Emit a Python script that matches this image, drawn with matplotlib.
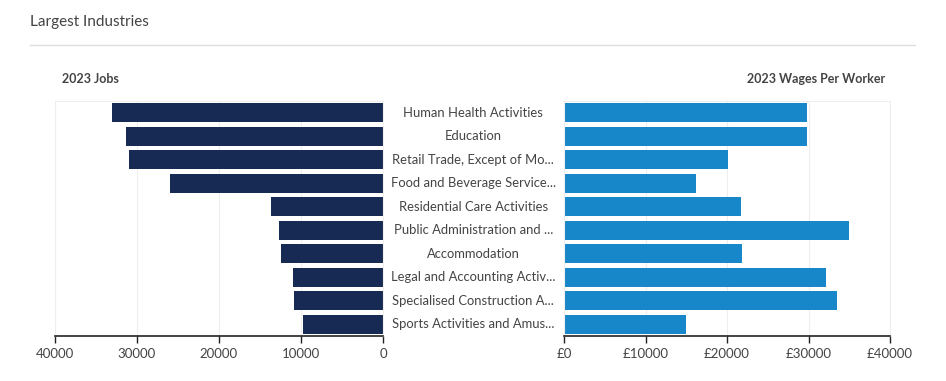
import matplotlib
matplotlib.use("Agg")
import matplotlib.pyplot as plt
from matplotlib.ticker import FuncFormatter

plt.rcParams['font.family'] = ['Lato', 'DejaVu Sans']

industries = [
    "Human Health Activities",
    "Education",
    "Retail Trade, Except of Mo...",
    "Food and Beverage Service...",
    "Residential Care Activities",
    "Public Administration and ...",
    "Accommodation",
    "Legal and Accounting Activ...",
    "Specialised Construction A...",
    "Sports Activities and Amus...",
]
jobs = [33000, 31400, 31000, 26000, 13600, 12700, 12400, 11000, 10800, 9800]
wages = [29800, 29800, 20100, 16200, 21700, 35000, 21800, 32100, 33500, 15000]
ticks = [0, 10000, 20000, 30000, 40000]

navy = "#172a54"
blue = "#1787c9"
txt = "#444444"

fig = plt.figure(figsize=(9.46, 3.81), dpi=100)

fig.text(30 / 946, 1 - 22 / 381, "Largest Industries", fontsize=11, color=txt, va="center")
fig.add_artist(plt.Line2D([30 / 946, 915 / 946], [1 - 45 / 381] * 2, color="#dddddd", lw=1))

bottom = 45 / 381
height = 235 / 381
axl = fig.add_axes([55 / 946, bottom, 328 / 946, height])
axr = fig.add_axes([564 / 946, bottom, 326 / 946, height])

y = list(range(len(industries)))
axl.barh(y, jobs, height=0.8, color=navy)
axr.barh(y, wages, height=0.8, color=blue)

axl.set_xlim(40000, 0)
axr.set_xlim(0, 40000)
axr.xaxis.set_major_formatter(FuncFormatter(lambda v, p: f"£{int(v)}"))

for ax in (axl, axr):
    ax.set_ylim(len(industries) - 0.5, -0.5)
    ax.set_xticks(ticks)
    ax.set_yticks([])
    ax.grid(axis="x", color="#eeeeee", lw=0.8)
    ax.set_axisbelow(True)
    for s in ("top", "left", "right"):
        ax.spines[s].set_color("#eeeeee")
        ax.spines[s].set_linewidth(0.8)
    ax.spines["bottom"].set_color("#222222")
    ax.spines["bottom"].set_linewidth(1.2)
    ax.tick_params(axis="x", colors="#222222", labelcolor=txt, labelsize=9.5, length=5, width=1)

# industry names sit in the gap between the two panels
for i, name in enumerate(industries):
    axl.annotate(name, xy=(1, i), xycoords=("axes fraction", "data"),
                 xytext=(65, 0), textcoords="offset points",
                 ha="center", va="center", fontsize=9.4, color=txt)

fig.text(62 / 946, 1 - 79 / 381, "2023 Jobs", fontsize=9, fontweight="bold", color=txt, va="center")
fig.text(885 / 946, 1 - 79 / 381, "2023 Wages Per Worker", fontsize=9, fontweight="bold",
         color=txt, va="center", ha="right")

fig.savefig("out.png", dpi=100)
